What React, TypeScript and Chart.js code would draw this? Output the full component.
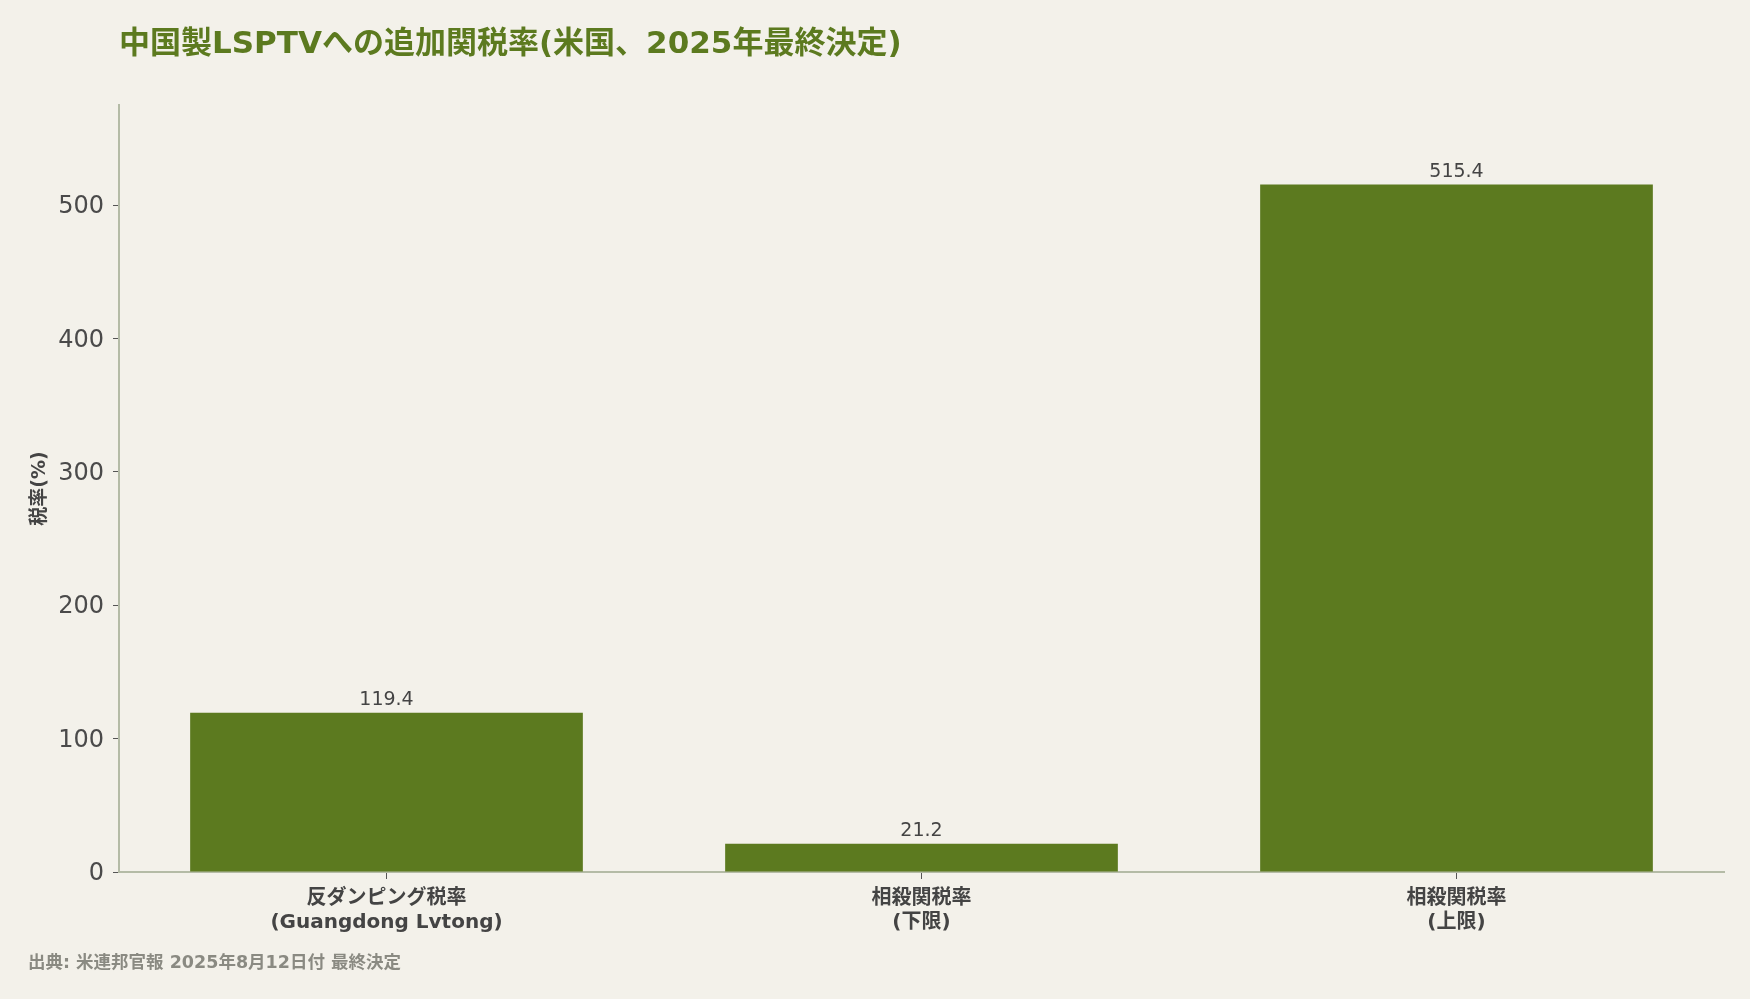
import React, { useEffect, useRef } from "react";
import { Chart, registerables } from "chart.js";

Chart.register(...registerables);

const categories: string[][] = [
  ["反ダンピング税率", "(Guangdong Lvtong)"],
  ["相殺関税率", "(下限)"],
  ["相殺関税率", "(上限)"],
];
const rates: number[] = [119.4, 21.2, 515.4];
const yTicks: number[] = [0, 100, 200, 300, 400, 500];
const titleText = "中国製LSPTVへの追加関税率(米国、2025年最終決定)";
const sourceText = "出典: 米連邦官報 2025年8月12日付 最終決定";
const yAxisTitle = "税率(%)";

const FONT = "'DejaVu Sans', 'Noto Sans CJK JP', sans-serif";
const BG = "#f3f1ea";
const GREEN = "#5c7a1f";

const extrasPlugin = {
  id: "extras",
  afterDatasetsDraw(chart: any) {
    const ctx = chart.ctx;
    const area = chart.chartArea;
    ctx.save();
    // title
    ctx.fillStyle = GREEN;
    ctx.font = `bold 31px ${FONT}`;
    ctx.textAlign = "left";
    ctx.textBaseline = "middle";
    ctx.fillText(titleText, area.left, 45);
    // source
    ctx.fillStyle = "#8a8a82";
    ctx.font = `bold 17.5px ${FONT}`;
    ctx.fillText(sourceText, 28, 963);
    // data labels
    const meta = chart.getDatasetMeta(0);
    ctx.fillStyle = "#444444";
    ctx.font = `19px ${FONT}`;
    ctx.textAlign = "center";
    ctx.textBaseline = "alphabetic";
    meta.data.forEach((bar: any, i: number) => {
      ctx.fillText(rates[i].toFixed(1), bar.x, bar.y - 8);
    });
    ctx.restore();
  },
};

const bgPlugin = {
  id: "bg",
  beforeDraw(chart: any) {
    const ctx = chart.ctx;
    ctx.save();
    ctx.fillStyle = BG;
    ctx.fillRect(0, 0, chart.width, chart.height);
    ctx.restore();
  },
};

export default function App() {
  const ref = useRef<HTMLCanvasElement | null>(null);
  useEffect(() => {
    document.body.style.margin = "0";
    document.body.style.background = BG;
    const chart = new Chart(ref.current as HTMLCanvasElement, {
      type: "bar",
      data: {
        labels: categories,
        datasets: [
          {
            data: rates,
            backgroundColor: GREEN,
            barPercentage: 0.734,
            categoryPercentage: 1,
          },
        ],
      },
      plugins: [bgPlugin, extrasPlugin],
      options: {
        animation: false,
        responsive: false,
        devicePixelRatio: 1,
        layout: { padding: { top: 105, right: 26, bottom: 0, left: 0 } },
        plugins: {
          legend: { display: false },
          title: { display: false },
          tooltip: { enabled: false },
        },
        scales: {
          x: {
            afterFit: (s: any) => {
              s.height = 127;
            },
            grid: {
              display: true,
              offset: false,
              drawOnChartArea: false,
              drawTicks: true,
              tickLength: 7,
              color: "#555555",
            },
            border: { color: "#b4bba6", width: 2 },
            ticks: {
              color: "#444444",
              padding: 8,
              font: { family: FONT, size: 20, weight: "bold" as any, lineHeight: 1.2 },
            },
          },
          y: {
            min: 0,
            max: 575,
            afterFit: (s: any) => {
              s.width = 119;
            },
            afterBuildTicks: (s: any) => {
              s.ticks = yTicks.map((v) => ({ value: v }));
            },
            grid: {
              display: true,
              drawOnChartArea: false,
              drawTicks: true,
              tickLength: 6,
              color: "#555555",
            },
            border: { color: "#b4bba6", width: 2 },
            ticks: {
              color: "#4a4a4a",
              padding: 9,
              labelOffset: 2,
              font: { family: FONT, size: 24 },
            },
            title: {
              display: true,
              text: yAxisTitle,
              color: "#444444",
              padding: { top: 29, bottom: 0 },
              font: { family: FONT, size: 19, weight: "bold" as any },
            },
          },
        },
      },
    });
    return () => chart.destroy();
  }, []);
  return (
    <div style={{ position: "fixed", left: 0, top: 0, width: 1750, height: 999, background: BG }}>
      <canvas ref={ref} width={1750} height={999} style={{ width: 1750, height: 999 }} />
    </div>
  );
}
